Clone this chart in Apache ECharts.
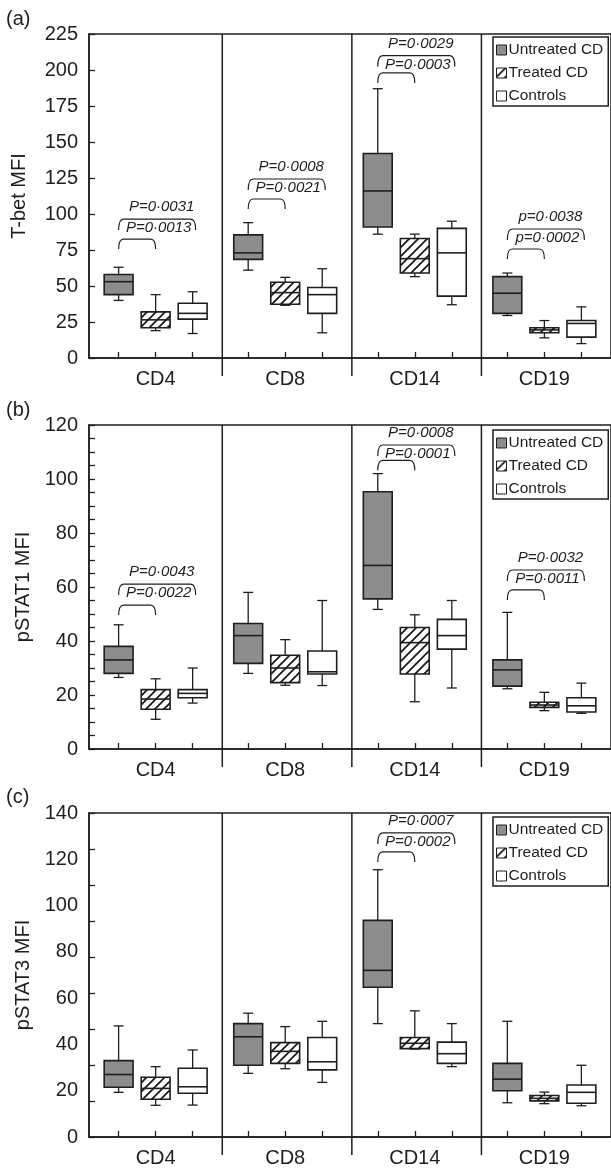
<!DOCTYPE html>
<html>
<head>
<meta charset="utf-8">
<script src="https://cdn.jsdelivr.net/npm/echarts@6/dist/echarts.min.js"></script>
<style>
html,body{margin:0;padding:0;background:#fff;}
#chart{width:611px;height:1170px;}
</style>
</head>
<body>
<div id="chart"></div>
<script>
// ---------------- data ----------------
const categories = ['CD4', 'CD8', 'CD14', 'CD19'];
const groupNames = ['Untreated CD', 'Treated CD', 'Controls'];

// each box: [min, Q1, median, Q3, max], one per category
const tbetUntreated = [[40, 44, 53, 58, 63], [61, 68.5, 73, 85.5, 94], [86, 91, 116, 142, 187], [29.5, 31, 45, 56.5, 59]];
const tbetTreated   = [[19, 21, 26.5, 32, 44], [36.6, 37.3, 45.4, 52.6, 56], [56.5, 59, 69, 83, 86], [14, 17.5, 19.5, 21, 26]];
const tbetControls  = [[17, 27, 31, 38, 46], [17.5, 31, 44, 49, 62], [37, 43, 73, 90, 95], [10, 14.5, 24, 26, 35.5]];

const pstat1Untreated = [[26.5, 28, 33, 38, 46], [28, 31.7, 42, 46.5, 58], [51.7, 55.6, 68, 95.3, 102], [22.3, 23.3, 29.3, 33, 50.6]];
const pstat1Treated   = [[11, 14.7, 18.5, 22, 26], [23.6, 24.6, 30, 34.7, 40.5], [17.5, 27.8, 39.4, 45, 49.7], [14.2, 15.4, 16.3, 17.3, 21]];
const pstat1Controls  = [[17, 19, 20.6, 22, 30], [23.5, 27.8, 28.6, 36.3, 55], [22.6, 37, 42, 48, 55], [13.2, 13.7, 16, 19, 24.4]];

const pstat3Untreated = [[19.3, 21.5, 27, 33, 48], [27.5, 31, 43.3, 49, 53.5], [49, 64.7, 72, 93.6, 115.5], [14.8, 20, 25, 31.8, 50]];
const pstat3Treated   = [[13.7, 16.3, 21, 25.8, 30.4], [29.5, 31.8, 37, 40.8, 47.7], [38, 38.2, 40.5, 43, 54.5], [14.4, 15.6, 16.7, 17.9, 19.4]];
const pstat3Controls  = [[13.8, 18.9, 21.7, 29.7, 37.6], [23.6, 29, 32.5, 43, 50], [30.4, 31.8, 36, 41, 49], [13.5, 14.6, 19.3, 22.5, 31]];

// p-value annotations: category index, inner bracket level, outer bracket level, texts
const tbetAnnCats   = [0, 1, 2, 3];
const tbetAnnInner  = [82.6, 110.4, 198, 75.7];
const tbetAnnOuter  = [96.5, 124.3, 210, 89.6];
const tbetAnnLower  = ['P=0·0013', 'P=0·0021', 'P=0·0003', 'p=0·0002'];
const tbetAnnUpper  = ['P=0·0031', 'P=0·0008', 'P=0·0029', 'p=0·0038'];

const pstat1AnnCats  = [0, 2, 3];
const pstat1AnnInner = [53.3, 106.9, 58.9];
const pstat1AnnOuter = [61.1, 112.6, 66.3];
const pstat1AnnLower = ['P=0·0022', 'P=0·0001', 'P=0·0011'];
const pstat1AnnUpper = ['P=0·0043', 'P=0·0008', 'P=0·0032'];

const pstat3AnnCats  = [2];
const pstat3AnnInner = [123.2];
const pstat3AnnOuter = [131.4];
const pstat3AnnLower = ['P=0·0002'];
const pstat3AnnUpper = ['P=0·0007'];

// axis ticks
const tbetTicks = { max: 225, interval: 25 };
const pstat1Ticks = { max: 120, interval: 20 };
const pstat3Ticks = { max: 140, interval: 20 };

// x positions on the value axis (layout)
const GROUP_SPAN = 3.5;
const X_MIN = 0.2, X_MAX = 14.3;
const labelPositions = [2, 5.5, 9, 12.5];
const dividerPositions = [3.8, 7.3, 10.8];

// ---------------- styling / layout ----------------
const FONT = '"Liberation Sans", Arial, sans-serif';
const INK = '#1e1e1e';
const GREY = '#8d8d8d';

function makeHatch() {
  const c = document.createElement('canvas');
  c.width = 9; c.height = 9;
  const g = c.getContext('2d');
  g.fillStyle = '#fff'; g.fillRect(0, 0, 9, 9);
  g.strokeStyle = '#111'; g.lineWidth = 1.6;
  g.beginPath();
  g.moveTo(-1, 10); g.lineTo(10, -1);
  g.moveTo(-1, 1); g.lineTo(1, -1);
  g.moveTo(8, 10); g.lineTo(10, 8);
  g.stroke();
  return c;
}
const hatch = { image: makeHatch(), repeat: 'repeat' };
const fills = [GREY, hatch, '#ffffff'];

const panels = [
  { label: '(a)', labelTop: 9, top: 34, bottom: 812, yName: 'T-bet MFI', nameGap: 60, ticks: tbetTicks, minor: false, ninth: false,
    data: [tbetUntreated, tbetTreated, tbetControls],
    ann: [tbetAnnCats, tbetAnnInner, tbetAnnOuter, tbetAnnLower, tbetAnnUpper], legendTop: 37 },
  { label: '(b)', labelTop: 400, top: 425, bottom: 421, yName: 'pSTAT1 MFI', nameGap: 54, ticks: pstat1Ticks, minor: true, ninth: false,
    data: [pstat1Untreated, pstat1Treated, pstat1Controls],
    ann: [pstat1AnnCats, pstat1AnnInner, pstat1AnnOuter, pstat1AnnLower, pstat1AnnUpper], legendTop: 430 },
  { label: '(c)', labelTop: 787, top: 813, bottom: 33, yName: 'pSTAT3 MFI', nameGap: 54, ticks: pstat3Ticks, minor: false, ninth: true,
    data: [pstat3Untreated, pstat3Treated, pstat3Controls],
    ann: [pstat3AnnCats, pstat3AnnInner, pstat3AnnOuter, pstat3AnnLower, pstat3AnnUpper], legendTop: 817 }
];

function boxX(cat, grp) { return cat * GROUP_SPAN + grp + 1; }
const boxPositions = [];
categories.forEach((c, ci) => groupNames.forEach((g, gi) => boxPositions.push(boxX(ci, gi))));

function renderBox(params, api) {
  const x = api.value(0);
  const lo = api.coord([x, api.value(1)]);
  const q1 = api.coord([x, api.value(2)]);
  const md = api.coord([x, api.value(3)]);
  const q3 = api.coord([x, api.value(4)]);
  const hi = api.coord([x, api.value(5)]);
  const w = api.size([0.78, 0])[0];
  const cw = 10;
  const cx = lo[0];
  const line = { stroke: INK, lineWidth: 1.3 };
  return {
    type: 'group',
    children: [
      { type: 'line', shape: { x1: cx, y1: hi[1], x2: cx, y2: q3[1] }, style: line },
      { type: 'line', shape: { x1: cx, y1: q1[1], x2: cx, y2: lo[1] }, style: line },
      { type: 'line', shape: { x1: cx - cw / 2, y1: hi[1], x2: cx + cw / 2, y2: hi[1] }, style: line },
      { type: 'line', shape: { x1: cx - cw / 2, y1: lo[1], x2: cx + cw / 2, y2: lo[1] }, style: line },
      { type: 'rect', shape: { x: cx - w / 2, y: q3[1], width: w, height: q1[1] - q3[1] },
        style: { fill: api.visual('color'), stroke: INK, lineWidth: 1.6 } },
      { type: 'line', shape: { x1: cx - w / 2, y1: md[1], x2: cx + w / 2, y2: md[1] }, style: { stroke: INK, lineWidth: 1.6 } }
    ]
  };
}

function makeAnnRender(lowerArr, upperArr) {
  return function (params, api) {
    const x1 = api.value(0), x2 = api.value(1), x3 = api.value(2);
    const inner = api.value(3), outer = api.value(4);
    const idx = params.dataIndex;
    const a = api.coord([x1, inner]), b = api.coord([x2, inner]);
    const c = api.coord([x1, outer]), d = api.coord([x3, outer]);
    const r = 5;
    const br = (p, q, hh, ex) => 'M' + p[0] + ' ' + (p[1] + hh) +
      ' Q' + p[0] + ' ' + p[1] + ' ' + (p[0] + r) + ' ' + p[1] +
      ' L' + (q[0] + ex - r) + ' ' + q[1] +
      ' Q' + (q[0] + ex) + ' ' + q[1] + ' ' + (q[0] + ex) + ' ' + (q[1] + hh);
    const st = { fill: null, stroke: INK, lineWidth: 1.2 };
    const mid = (c[0] + d[0]) / 2;
    return {
      type: 'group',
      children: [
        { type: 'path', shape: { pathData: br(a, b, 10, 0) }, style: st },
        { type: 'path', shape: { pathData: br(c, d, 11, 3) }, style: st },
        { type: 'text', style: { text: lowerArr[idx], x: mid + 3, y: c[1] + 9, align: 'center', verticalAlign: 'middle',
          font: 'italic 15px ' + FONT, fill: INK } },
        { type: 'text', style: { text: upperArr[idx], x: mid + 6, y: c[1] - 12, align: 'center', verticalAlign: 'middle',
          font: 'italic 15px ' + FONT, fill: INK } }
      ]
    };
  };
}

function makeDividerRender(yMax) {
  return function (params, api) {
    const x = api.value(0);
    const top = api.coord([x, yMax]);
    const bot = api.coord([x, 0]);
    return { type: 'line', shape: { x1: top[0], y1: top[1], x2: bot[0], y2: bot[1] + 18 },
      style: { stroke: INK, lineWidth: 1.5 } };
  };
}

const option = {
  animation: false,
  backgroundColor: '#fff',
  title: [], grid: [], xAxis: [], yAxis: [], series: [], legend: []
};

panels.forEach((p, pi) => {
  option.title.push({ text: p.label, left: 6, top: p.labelTop, padding: 0,
    textStyle: { fontFamily: FONT, fontSize: 20, fontWeight: 'normal', color: INK } });
  option.grid.push({ left: 89, right: -7, top: p.top, bottom: p.bottom, show: true,
    borderColor: INK, borderWidth: 1.5, backgroundColor: 'transparent' });
  option.xAxis.push({ type: 'value', gridIndex: pi, min: X_MIN, max: X_MAX, position: 'bottom',
    axisLine: { show: true, lineStyle: { color: INK, width: 1.5 } },
    splitLine: { show: false },
    axisTick: { show: true, inside: true, length: 6, lineStyle: { color: INK, width: 1.3 }, customValues: boxPositions },
    axisLabel: { show: true, customValues: labelPositions, fontFamily: FONT, fontSize: 20, color: INK, margin: 11,
      formatter: v => { const i = labelPositions.findIndex(q => Math.abs(q - v) < 1e-6); return i >= 0 ? categories[i] : ''; } } });
  const yIdx = option.yAxis.length;
  option.yAxis.push({ type: 'value', gridIndex: pi, min: 0, max: p.ticks.max, interval: p.ticks.interval,
    name: p.yName, nameLocation: 'middle', nameGap: p.nameGap,
    nameTextStyle: { fontFamily: FONT, fontSize: 20, color: INK },
    axisLine: { show: true, lineStyle: { color: INK, width: 1.5 } },
    axisTick: { show: true, inside: true, length: 6, lineStyle: { color: INK, width: 1.3 } },
    minorTick: { show: p.minor, splitNumber: 4, length: 6, lineStyle: { color: INK, width: 1.3 } },
    splitLine: { show: false },
    axisLabel: { fontFamily: FONT, fontSize: 20, color: INK, margin: 11 } });
  if (p.ninth) {
    const tv = [];
    for (let k = 0; k <= 9; k++) tv.push(p.ticks.max * k / 9);
    option.yAxis[yIdx].axisTick.customValues = tv;
  }
  groupNames.forEach((g, gi) => {
    option.series.push({
      type: 'custom', name: g, xAxisIndex: pi, yAxisIndex: yIdx,
      itemStyle: { color: fills[gi], borderColor: INK, borderWidth: 1.2 },
      encode: { x: 0, y: [1, 2, 3, 4, 5] },
      renderItem: renderBox,
      data: p.data[gi].map((q, ci) => [boxX(ci, gi)].concat(q)),
      z: 5
    });
  });
  option.series.push({
    type: 'custom', xAxisIndex: pi, yAxisIndex: yIdx, silent: true, clip: false,
    encode: { x: 0 },
    renderItem: makeDividerRender(p.ticks.max),
    data: dividerPositions.map(v => [v]),
    z: 3
  });
  const [cats, inner, outer, lower, upper] = p.ann;
  option.series.push({
    type: 'custom', xAxisIndex: pi, yAxisIndex: yIdx, silent: true,
    encode: { x: [0, 1, 2], y: [3, 4] },
    renderItem: makeAnnRender(lower, upper),
    data: cats.map((ci, k) => [boxX(ci, 0), boxX(ci, 1), boxX(ci, 2), inner[k], outer[k]]),
    z: 6
  });
  option.legend.push({
    data: groupNames, orient: 'vertical', left: 493, top: p.legendTop, icon: 'rect',
    itemWidth: 10, itemHeight: 10, itemGap: 7, selectedMode: false,
    backgroundColor: '#fff', borderColor: INK, borderWidth: 1.5, padding: [5, 5, 2, 3],
    itemStyle: { borderColor: INK, borderWidth: 1 },
    textStyle: { fontFamily: FONT, fontSize: 15.5, color: INK, lineHeight: 16, padding: [0, 0, 0, -3] }
  });
});

const chart = echarts.init(document.getElementById('chart'), null, { renderer: 'canvas' });
chart.setOption(option);
</script>
</body>
</html>
